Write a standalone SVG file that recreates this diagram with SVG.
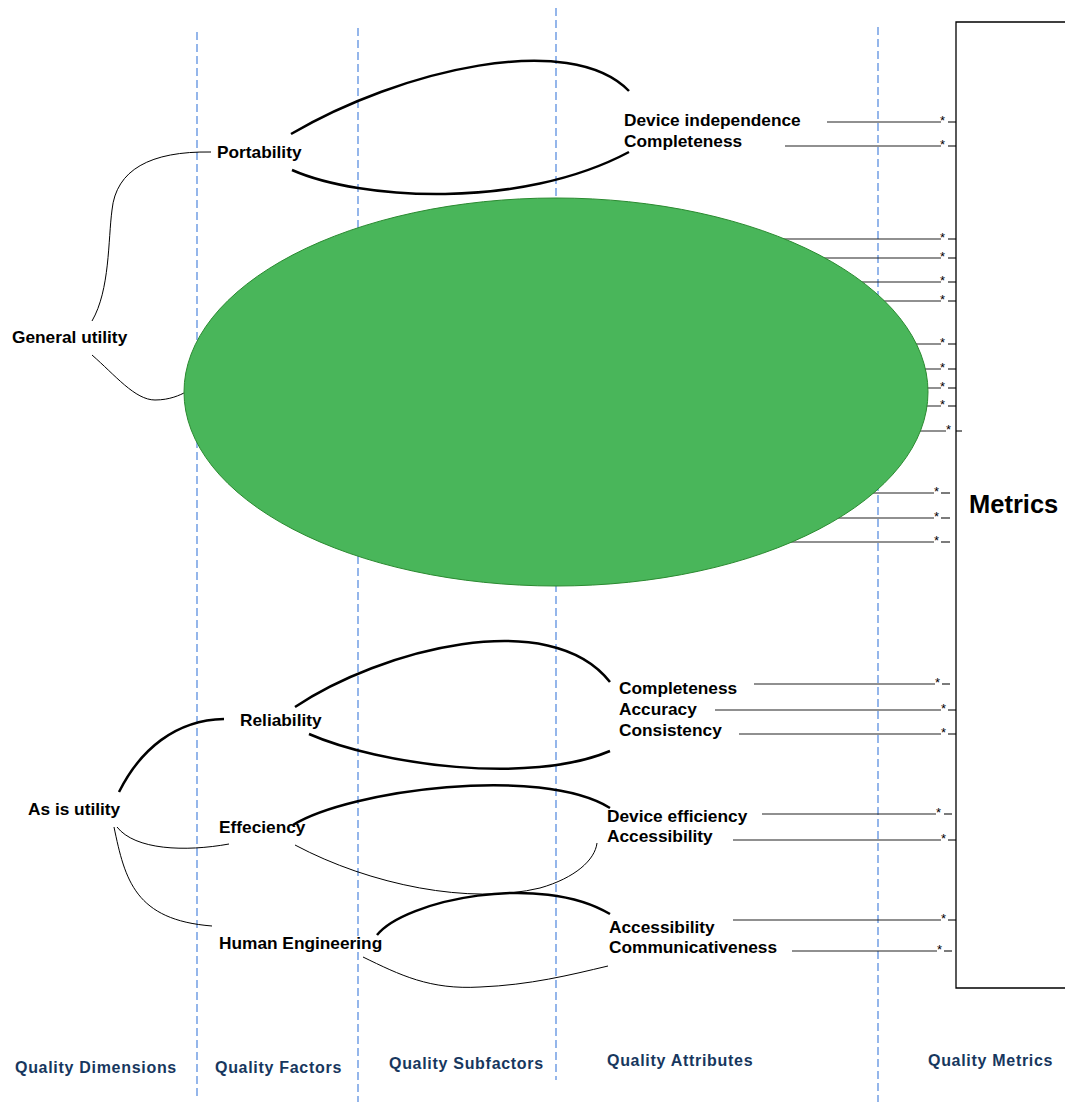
<svg xmlns="http://www.w3.org/2000/svg" width="1065" height="1102" viewBox="0 0 1065 1102">
  <style>
    .lbl { font-family: "Liberation Sans", Arial, sans-serif; font-weight: bold; font-size: 17.3px; fill: #000; }
    .col { font-family: "Liberation Sans", Arial, sans-serif; font-weight: bold; font-size: 16px; fill: #17375E; letter-spacing: 0.7px; }
    .big { font-family: "Liberation Sans", Arial, sans-serif; font-weight: bold; font-size: 25.5px; fill: #000; }
    .star { font-family: "Liberation Sans", Arial, sans-serif; font-size: 13px; fill: #000; }
    .lane { stroke: #3F7BDA; stroke-width: 1.1; stroke-dasharray: 8 4; fill: none; }
    .thick { stroke: #000; stroke-width: 2.5; fill: none; }
    .thin { stroke: #000; stroke-width: 1; fill: none; }
    .metric { stroke: #222; stroke-width: 1.2; fill: none; }
  </style>

  <rect width="1065" height="1102" fill="#fff"/>

  <!-- column separators -->
  <g id="lanes">
    <line class="lane" x1="197" y1="32" x2="197" y2="1100"/>
    <line class="lane" x1="358" y1="28" x2="358" y2="1102"/>
    <line class="lane" x1="556" y1="8" x2="556" y2="1080"/>
    <line class="lane" x1="878" y1="27" x2="878" y2="1102"/>
  </g>

  <!-- metric leader lines -->
  <g id="connectors">
    <g id="metric-lines">
      <line class="metric" x1="827" y1="122" x2="941" y2="122"/><line class="metric" x1="948" y1="122" x2="956" y2="122"/>
      <line class="metric" x1="785" y1="146" x2="941" y2="146"/><line class="metric" x1="948" y1="146" x2="956" y2="146"/>
      <line class="metric" x1="700" y1="239" x2="941" y2="239"/><line class="metric" x1="948" y1="239" x2="956" y2="239"/>
      <line class="metric" x1="700" y1="258" x2="941" y2="258"/><line class="metric" x1="948" y1="258" x2="956" y2="258"/>
      <line class="metric" x1="700" y1="282" x2="941" y2="282"/><line class="metric" x1="948" y1="282" x2="956" y2="282"/>
      <line class="metric" x1="700" y1="301" x2="941" y2="301"/><line class="metric" x1="948" y1="301" x2="956" y2="301"/>
      <line class="metric" x1="700" y1="344" x2="941" y2="344"/><line class="metric" x1="948" y1="344" x2="956" y2="344"/>
      <line class="metric" x1="700" y1="369" x2="941" y2="369"/><line class="metric" x1="948" y1="369" x2="956" y2="369"/>
      <line class="metric" x1="700" y1="388" x2="941" y2="388"/><line class="metric" x1="948" y1="388" x2="956" y2="388"/>
      <line class="metric" x1="700" y1="406" x2="941" y2="406"/><line class="metric" x1="948" y1="406" x2="956" y2="406"/>
      <line class="metric" x1="700" y1="431" x2="946" y2="431"/><line class="metric" x1="956" y1="431" x2="962" y2="431"/>
      <line class="metric" x1="700" y1="493" x2="934" y2="493"/><line class="metric" x1="941" y1="493" x2="950" y2="493"/>
      <line class="metric" x1="700" y1="518" x2="934" y2="518"/><line class="metric" x1="941" y1="518" x2="950" y2="518"/>
      <line class="metric" x1="700" y1="542" x2="934" y2="542"/><line class="metric" x1="941" y1="542" x2="950" y2="542"/>
      <line class="metric" x1="754" y1="684" x2="935" y2="684"/><line class="metric" x1="942" y1="684" x2="950" y2="684"/>
      <line class="metric" x1="715" y1="710" x2="941" y2="710"/><line class="metric" x1="948" y1="710" x2="956" y2="710"/>
      <line class="metric" x1="739" y1="734" x2="941" y2="734"/><line class="metric" x1="948" y1="734" x2="956" y2="734"/>
      <line class="metric" x1="762" y1="814" x2="936" y2="814"/><line class="metric" x1="944" y1="814" x2="952" y2="814"/>
      <line class="metric" x1="733" y1="840" x2="941" y2="840"/><line class="metric" x1="948" y1="840" x2="956" y2="840"/>
      <line class="metric" x1="733" y1="920" x2="941" y2="920"/><line class="metric" x1="948" y1="920" x2="956" y2="920"/>
      <line class="metric" x1="792" y1="951" x2="937" y2="951"/><line class="metric" x1="944" y1="951" x2="952" y2="951"/>
    </g>
    <g id="metric-stars">
      <text class="star" x="940" y="125">*</text>
      <text class="star" x="940" y="149">*</text>
      <text class="star" x="940" y="242">*</text>
      <text class="star" x="940" y="261">*</text>
      <text class="star" x="940" y="285">*</text>
      <text class="star" x="940" y="304">*</text>
      <text class="star" x="940" y="347">*</text>
      <text class="star" x="940" y="372">*</text>
      <text class="star" x="940" y="391">*</text>
      <text class="star" x="940" y="409">*</text>
      <text class="star" x="946" y="434">*</text>
      <text class="star" x="934" y="496">*</text>
      <text class="star" x="934" y="521">*</text>
      <text class="star" x="934" y="545">*</text>
      <text class="star" x="935" y="687">*</text>
      <text class="star" x="941" y="713">*</text>
      <text class="star" x="941" y="737">*</text>
      <text class="star" x="936" y="817">*</text>
      <text class="star" x="941" y="843">*</text>
      <text class="star" x="941" y="923">*</text>
      <text class="star" x="937" y="954">*</text>
    </g>

    <!-- dimension to factor links -->
    <path class="thin" d="M92,321 C110,290 108,240 112,210 C116,170 150,151 211,152"/>
    <path class="thin" d="M92,355 C115,375 135,400 155,400 C170,400 180,395 186,392"/>
    <path class="thick" d="M119,792 C140,750 175,720 224,719"/>
    <path class="thin" d="M117,827 C135,850 185,852 229,844"/>
    <path class="thin" d="M114,827 C125,880 135,920 212,926"/>

    <!-- factor to attribute links -->
    <path class="thick" d="M291,134 C400,70 570,30 629,91"/>
    <path class="thick" d="M292,170 C360,200 520,210 629,152"/>
    <path class="thick" d="M295,707 C380,650 550,605 610,682"/>
    <path class="thick" d="M309,734 C380,765 530,785 610,751"/>
    <path class="thick" d="M293,825 C350,790 540,765 610,808"/>
    <path class="thin" d="M295,845 C370,885 470,905 540,888 C575,878 595,860 597,843"/>
    <path class="thick" d="M377,935 C405,900 540,872 610,914"/>
    <path class="thin" d="M363,957 C400,975 430,990 480,987 C530,985 570,975 608,966"/>
  </g>

  <!-- metrics panel -->
  <g id="metrics">
    <path d="M1066,22 H956 V988 H1066" fill="none" stroke="#000" stroke-width="1.3"/>
    <text class="big" x="969" y="513">Metrics</text>
  </g>

  <!-- central blob -->
  <g id="blob">
    <ellipse cx="556" cy="392" rx="372" ry="194" fill="#49B65A" stroke="#2A8A30" stroke-width="1"/>
  </g>

  <g id="general-utility"><text class="lbl" x="12" y="343">General utility</text></g>
  <g id="portability"><text class="lbl" x="217" y="158">Portability</text></g>
  <g id="portability-attrs">
    <text class="lbl" x="624" y="126">Device independence</text>
    <text class="lbl" x="624" y="147">Completeness</text>
  </g>

  <g id="as-is-utility"><text class="lbl" x="28" y="815">As is utility</text></g>
  <g id="reliability"><text class="lbl" x="240" y="726">Reliability</text></g>
  <g id="effeciency"><text class="lbl" x="219" y="833">Effeciency</text></g>
  <g id="human-engineering"><text class="lbl" x="219" y="949">Human Engineering</text></g>

  <g id="reliability-attrs">
    <text class="lbl" x="619" y="694">Completeness</text>
    <text class="lbl" x="619" y="715">Accuracy</text>
    <text class="lbl" x="619" y="736">Consistency</text>
  </g>
  <g id="effeciency-attrs">
    <text class="lbl" x="607" y="822">Device efficiency</text>
    <text class="lbl" x="607" y="842">Accessibility</text>
  </g>
  <g id="human-engineering-attrs">
    <text class="lbl" x="609" y="933">Accessibility</text>
    <text class="lbl" x="609" y="953">Communicativeness</text>
  </g>

  <!-- column headings -->
  <g id="headings">
    <text class="col" x="15" y="1073">Quality Dimensions</text>
    <text class="col" x="215" y="1073">Quality Factors</text>
    <text class="col" x="389" y="1069">Quality Subfactors</text>
    <text class="col" x="607" y="1066">Quality Attributes</text>
    <text class="col" x="928" y="1066">Quality Metrics</text>
  </g>
</svg>
